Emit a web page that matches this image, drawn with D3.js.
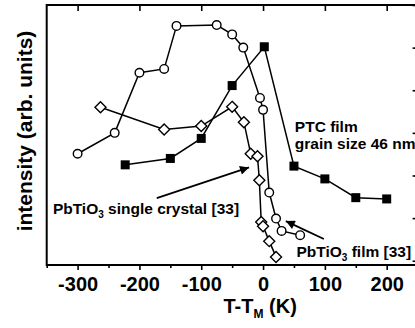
<!DOCTYPE html>
<html>
<head>
<meta charset="utf-8">
<script src="https://cdn.jsdelivr.net/npm/d3@7"></script>
<style>
  html, body { margin: 0; padding: 0; background: #fff; }
  svg { display: block; font-family: "Liberation Sans", Arial, Helvetica, sans-serif; }
</style>
</head>
<body>
<svg id="chart" width="415" height="328"></svg>
<script>
// Temperature relative to the transition, T - T_M (K)
const filmT      = [-300, -240, -200, -160, -140, -75, -50, -32, -5, 0, 10, 21, 30, 60];
const filmI      = [2.51, 3.00, 4.41, 4.50, 5.51, 5.53, 5.31, 5.00, 3.82, 3.54, 1.60, 0.99, 0.70, 0.60];

const crystalT   = [-263, -160, -100, -50, -31, -20, -9, -6, -3, 0, 10, 21];
const crystalI   = [3.60, 3.08, 3.16, 3.61, 3.25, 2.51, 2.45, 1.89, 0.91, 0.81, 0.46, 0.09];

const ptcT       = [-223, -150, -100, -50, 2, 50, 100, 150, 200];
const ptcI       = [2.25, 2.40, 2.87, 4.11, 5.02, 2.22, 1.92, 1.48, 1.45];

const xTicks     = [-300, -200, -100, 0, 100, 200];
const xMinor     = [-350, -250, -150, -50, 50, 150, 250];
const yTicks     = [0, 1, 2, 3, 4, 5, 6];
const yMinor     = [0.5, 1.5, 2.5, 3.5, 4.5, 5.5];

const svg = d3.select("#chart");
const x = d3.scaleLinear().domain([-350, 250]).range([46.7, 417.6]);
const y = d3.scaleLinear().domain([-0.1, 6]).range([265, 5]);

const font = '"Liberation Sans", Arial, Helvetica, sans-serif';

// --- axes ---------------------------------------------------------------
const bottomAxis = svg.append("g").attr("transform", `translate(0,${y(-0.1)})`)
  .call(d3.axisBottom(x).tickValues(xTicks).tickSize(5).tickPadding(7)
        .tickFormat(d => String(d)));
bottomAxis.append("g").call(d3.axisBottom(x).tickValues(xMinor).tickSize(3).tickFormat(""));
bottomAxis.selectAll("text").attr("font-size", 20).attr("font-weight", "bold")
  .attr("font-family", font).attr("fill", "#000");

const topAxis = svg.append("g").attr("transform", `translate(0,${y(6)})`)
  .call(d3.axisBottom(x).tickValues(xTicks).tickSize(6).tickFormat(""));

const rightAxis = svg.append("g").attr("transform", `translate(${x(250)},0)`)
  .call(d3.axisLeft(y).tickValues(yTicks).tickSize(5).tickFormat(""));
rightAxis.append("g").call(d3.axisLeft(y).tickValues(yMinor).tickSize(2).tickFormat(""));

svg.selectAll(".domain").remove();
svg.selectAll(".tick line").attr("stroke", "#000").attr("stroke-width", 1.6);

// frame
svg.append("rect")
  .attr("x", x(-350)).attr("y", y(6))
  .attr("width", x(250) - x(-350)).attr("height", y(-0.1) - y(6))
  .attr("fill", "none").attr("stroke", "#000").attr("stroke-width", 2);

// --- axis titles --------------------------------------------------------
svg.append("text")
  .attr("transform", `translate(31.5,131) rotate(-90)`)
  .attr("text-anchor", "middle").attr("font-size", 21).attr("font-weight", "bold")
  .text("intensity (arb. units)");

const xt = svg.append("text")
  .attr("x", 223.5).attr("y", 313.3)
  .attr("font-size", 20).attr("font-weight", "bold");
xt.append("tspan").text("T-T");
xt.append("tspan").attr("font-size", 12).attr("dy", 5).text("M");
xt.append("tspan").attr("dy", -5).text(" (K)");

// --- series -------------------------------------------------------------
const line = d3.line().x(d => x(d[0])).y(d => y(d[1]));
const zip = (a, b) => a.map((v, i) => [v, b[i]]);

const film = zip(filmT, filmI);
const crystal = zip(crystalT, crystalI);
const ptc = zip(ptcT, ptcI);

[ptc, crystal, film].forEach(data => {
  svg.append("path").datum(data).attr("d", line)
    .attr("fill", "none").attr("stroke", "#000").attr("stroke-width", 1.5);
});

svg.append("g").selectAll("rect").data(ptc).join("rect")
  .attr("x", d => x(d[0]) - 4.5).attr("y", d => y(d[1]) - 4.5)
  .attr("width", 9).attr("height", 9).attr("fill", "#000");

svg.append("g").selectAll("path").data(crystal).join("path")
  .attr("transform", d => `translate(${x(d[0])},${y(d[1])})`)
  .attr("d", "M0,-5.5L5.5,0L0,5.5L-5.5,0Z")
  .attr("fill", "#fff").attr("stroke", "#000").attr("stroke-width", 1.4);

svg.append("g").selectAll("circle").data(film).join("circle")
  .attr("cx", d => x(d[0])).attr("cy", d => y(d[1])).attr("r", 4.3)
  .attr("fill", "#fff").attr("stroke", "#000").attr("stroke-width", 1.4);

// --- annotations --------------------------------------------------------
svg.append("defs").append("marker")
  .attr("id", "head").attr("viewBox", "0 0 10 10").attr("refX", 10).attr("refY", 5)
  .attr("markerWidth", 6).attr("markerHeight", 5).attr("markerUnits", "strokeWidth")
  .attr("orient", "auto")
  .append("path").attr("d", "M0,0L10,5L0,10Z").attr("fill", "#000");

const arrows = [
  { from: [-172, 1.47], to: [-22.7, 2.19] },
  { from: [98.4, 0.51], to: [36.8, 0.93] }
];
arrows.forEach(a => {
  svg.append("line")
    .attr("x1", x(a.from[0])).attr("y1", y(a.from[1]))
    .attr("x2", x(a.to[0])).attr("y2", y(a.to[1]))
    .attr("stroke", "#000").attr("stroke-width", 1.8)
    .attr("marker-end", "url(#head)");
});

function label(xv, yv, parts) {
  const t = svg.append("text").attr("x", x(xv)).attr("y", y(yv))
    .attr("font-size", 15.5).attr("font-weight", "bold");
  parts.forEach(p => {
    if (p.sub) t.append("tspan").attr("font-size", 10).attr("dy", 4).text(p.sub);
    else t.append("tspan").attr("dy", p.up ? -4 : 0).text(p.text);
  });
}
label(51.4, 3.03, [{ text: "PTC film" }]);
label(51.4, 2.61, [{ text: "grain size 46 nm" }]);
label(-340, 1.09, [{ text: "PbTiO" }, { sub: "3" }, { text: " single crystal [33]", up: true }]);
label(54, 0.09, [{ text: "PbTiO" }, { sub: "3" }, { text: " film [33]", up: true }]);
</script>
</body>
</html>
